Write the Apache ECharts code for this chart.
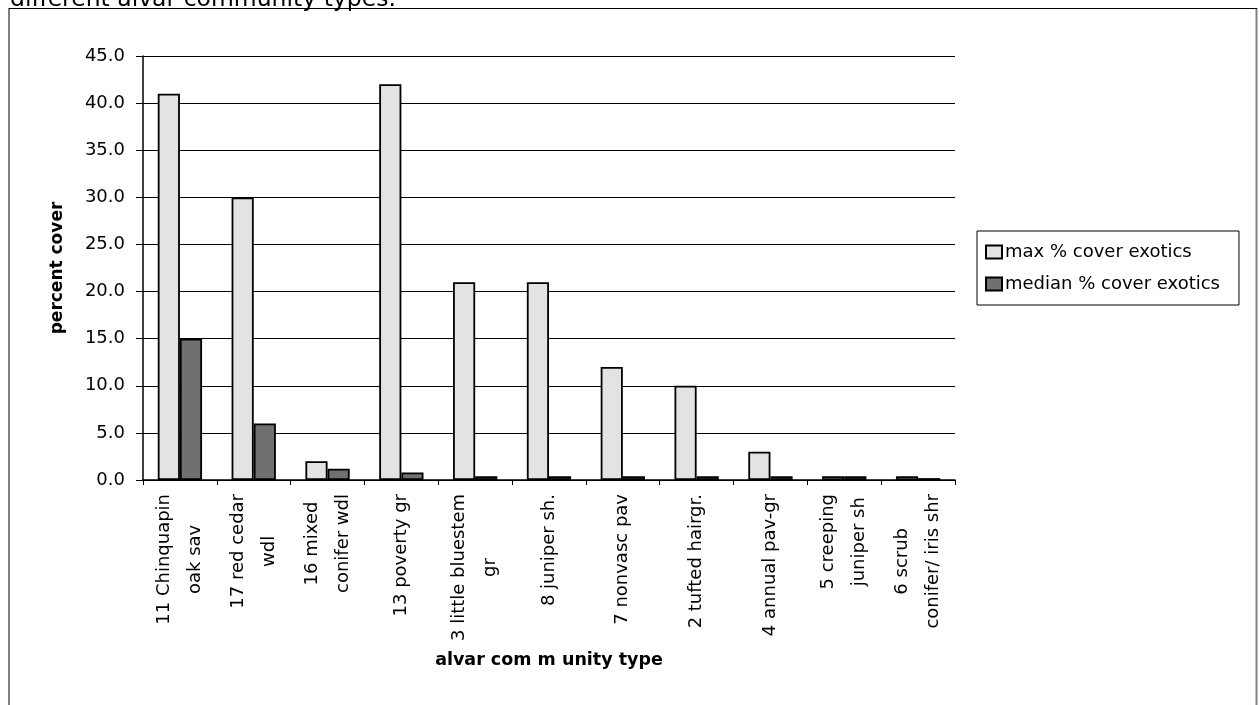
<!DOCTYPE html>
<html>
<head>
<meta charset="utf-8">
<style>
  html, body { margin: 0; padding: 0; background: #fff; }
  #chart { width: 1259px; height: 705px; }
</style>
<script src="https://cdn.jsdelivr.net/npm/echarts@6/dist/echarts.min.js"></script>
</head>
<body>
<div id="chart"></div>
<script>
// Alvar community types, in plotting order
const categories = [
  '11 Chinquapin\noak sav',
  '17 red cedar\nwdl',
  '16 mixed\nconifer wdl',
  '13 poverty gr',
  '3 little bluestem\ngr',
  '8 juniper sh.',
  '7 nonvasc pav',
  '2 tufted hairgr.',
  '4 annual pav-gr',
  '5 creeping\njuniper sh',
  '6 scrub\nconifer/ iris shr'
];

// Percent cover of exotic species per community type
const maxCover = [41, 30, 2, 42, 21, 21, 12, 10, 3, 0.4, 0.4];
const medianCover = [15, 6, 1.2, 0.8, 0.4, 0.4, 0.4, 0.4, 0.4, 0.4, 0.2];

const seriesNames = ['max % cover exotics', 'median % cover exotics'];
const yTicks = [0, 5, 10, 15, 20, 25, 30, 35, 40, 45];

const FONT = 'DejaVu Sans';

const chart = echarts.init(document.getElementById('chart'), null, { renderer: 'canvas' });

chart.setOption({
  backgroundColor: '#ffffff',
  animation: false,
  textStyle: { fontFamily: FONT, color: '#000' },
  graphic: [
    {
      type: 'text',
      left: 10,
      top: -12,
      style: {
        text: 'different alvar community types.',
        font: '23.5px "DejaVu Sans"',
        fill: '#000'
      },
      z: 10
    },
    // chart frame
    { type: 'line', shape: { x1: 9, y1: 8.5, x2: 1257, y2: 8.5 }, style: { stroke: '#000', lineWidth: 1 }, z: 11 },
    { type: 'line', shape: { x1: 9, y1: 8, x2: 9, y2: 720 }, style: { stroke: '#808080', lineWidth: 2 } },
    { type: 'line', shape: { x1: 1256.5, y1: 8, x2: 1256.5, y2: 720 }, style: { stroke: '#808080', lineWidth: 2 } }
  ],
  grid: {
    left: 143,
    right: 304,
    top: 56,
    bottom: 225,
    containLabel: false
  },
  legend: {
    data: seriesNames,
    orient: 'vertical',
    left: 977,
    top: 231,
    padding: [12, 19, 12, 8],
    itemGap: 14,
    itemWidth: 16,
    itemHeight: 13,
    borderColor: '#000',
    borderWidth: 1,
    icon: 'rect',
    textStyle: { fontFamily: FONT, fontSize: 18, color: '#000', padding: [0, 0, 0, -2] }
  },
  xAxis: {
    type: 'category',
    data: categories,
    name: 'alvar com m unity type',
    nameLocation: 'middle',
    nameGap: 171,
    nameTextStyle: { fontFamily: FONT, fontSize: 17.5, fontWeight: 'bold', color: '#000' },
    axisLine: { lineStyle: { color: '#000', width: 1.5 } },
    axisTick: { show: true, interval: 0, length: 5, alignWithLabel: false, lineStyle: { color: '#000', width: 1 } },
    axisLabel: {
      interval: 0,
      rotate: 90,
      margin: 14,
      formatter: function (v) {
        return v.split('\n').map(function (s) { return '{c|' + s + '}'; }).join('\n');
      },
      rich: {
        c: { align: 'center', fontFamily: FONT, fontSize: 18, lineHeight: 31, color: '#000' }
      }
    },
    splitLine: { show: false }
  },
  yAxis: {
    type: 'value',
    min: yTicks[0],
    max: yTicks[yTicks.length - 1],
    interval: 5,
    name: 'percent cover',
    nameLocation: 'middle',
    nameGap: 77,
    nameTextStyle: { fontFamily: FONT, fontSize: 17, fontWeight: 'bold', color: '#000' },
    axisLine: { show: true, lineStyle: { color: '#000', width: 1.5 } },
    axisTick: { show: true, length: 7, lineStyle: { color: '#000', width: 1 } },
    axisLabel: {
      margin: 18,
      fontFamily: FONT,
      fontSize: 18,
      color: '#000',
      formatter: function (v) { return v.toFixed(1); }
    },
    splitLine: { show: true, lineStyle: { color: '#000', width: 1 } }
  },
  series: [
    {
      name: seriesNames[0],
      type: 'bar',
      data: maxCover,
      barGap: '0%',
      barCategoryGap: '40%',
      itemStyle: { color: '#e3e3e3', borderColor: '#000', borderWidth: 1.8 }
    },
    {
      name: seriesNames[1],
      type: 'bar',
      data: medianCover,
      barGap: '0%',
      barCategoryGap: '40%',
      itemStyle: { color: '#707070', borderColor: '#000', borderWidth: 1.8 }
    }
  ]
});
</script>
</body>
</html>
